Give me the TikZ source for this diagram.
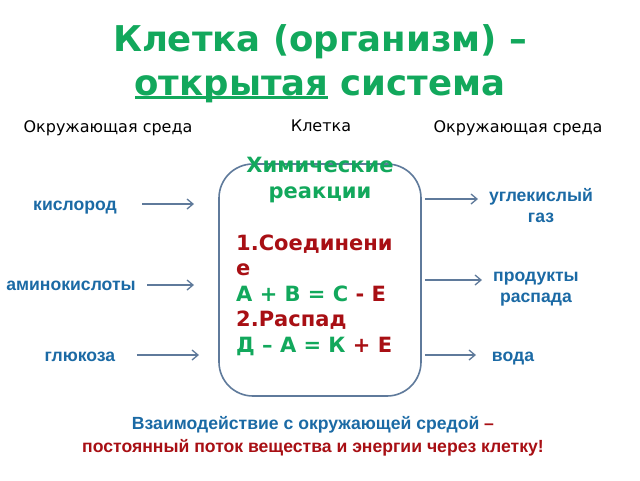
\documentclass[tikz,border=0pt]{standalone}
\usepackage{fontspec}
\setmainfont{DejaVu Sans}
\newfontfamily\lib{Liberation Sans}
\usepackage{xcolor}
\usetikzlibrary{arrows.meta}
\definecolor{chemgreen}{HTML}{12A85C}
\definecolor{chemred}{HTML}{A80F14}
\definecolor{labelblue}{HTML}{1B6AA5}
\definecolor{cellline}{HTML}{5F7A9B}
\tikzstyle{head} = [font={\fontsize{35.5}{44}\selectfont\bfseries}, color=chemgreen, align=center]
\tikzstyle{zone} = [font={\fontsize{16}{18}\selectfont}, color=black]
\tikzstyle{sub} = [font={\lib\fontsize{17.6}{21}\selectfont\bfseries}, color=labelblue, align=center]
\tikzstyle{chem} = [font={\fontsize{21}{25}\selectfont\bfseries}, anchor=west, inner sep=0pt]
\tikzstyle{flow} = [draw=cellline, line width=1.3pt, -{Straight Barb[length=6pt,width=10pt]}]
\begin{document}
\begin{tikzpicture}[x=1pt,y=-1pt]
    \useasboundingbox[fill=white] (0,0) rectangle (640,480);
    \node[head](title) at (320,64){Клетка (организм) –\\открытая система};
    \draw[chemgreen, line width=2.5pt](135,97.5)--(328,97.5);
    \node[zone](envleft) at (108,128){Окружающая среда};
    \node[zone](cellname) at (321,126){Клетка};
    \node[zone](envright) at (518,128){Окружающая среда};
    \node[draw=cellline, line width=1.6pt, rounded corners=34pt, minimum width=202pt, minimum height=232pt](cell) at (320,280){};
    \node[font={\fontsize{21}{26}\selectfont\bfseries}, color=chemgreen, align=center](chemhead) at (320,180){Химические\\реакции};
    \node[chem, color=chemred](join1) at (236,244){1.Соединени};
    \node[chem, color=chemred](join2) at (236,270){е};
    \node[chem, color=chemgreen](eq1) at (236,294){А + В = С \textcolor{chemred}{- Е}};
    \node[chem, color=chemred](split) at (236,320){2.Распад};
    \node[chem, color=chemgreen](eq2) at (236,346){Д – А = К \textcolor{chemred}{+ Е}};
    \node[sub](oxygen) at (75,208){кислород};
    \node[sub](amino) at (71,286){аминокислоты};
    \node[sub](glucose) at (80,357){глюкоза};
    \node[sub](carbon) at (541,206){углекислый\\газ};
    \node[sub](waste) at (536,289){продукты\\распада};
    \node[sub](water) at (513,359){вода};
    \coordinate (in1) at (194,204);
    \coordinate (in2) at (194,285);
    \coordinate (in3) at (199,355);
    \coordinate (out1) at (478,199);
    \coordinate (out2) at (482,280);
    \coordinate (out3) at (476,355);
    \draw[flow](oxygen.east|-in1)++(22,0)--(in1);
    \draw[flow](amino.east|-in2)++(8,0)--(in2);
    \draw[flow](glucose.east|-in3)++(18,0)--(in3);
    \draw[flow](cell.east|-out1)++(3,0)--(out1);
    \draw[flow](cell.east|-out2)++(3,0)--(out2);
    \draw[flow](cell.east|-out3)++(3,0)--(out3);
    \node[font={\lib\fontsize{17.6}{23}\selectfont\bfseries}, color=chemred, align=center](note) at (313,436){\textcolor{labelblue}{Взаимодействие с окружающей средой} –\\постоянный поток вещества и энергии через клетку!};
  \end{tikzpicture}
\end{document}
